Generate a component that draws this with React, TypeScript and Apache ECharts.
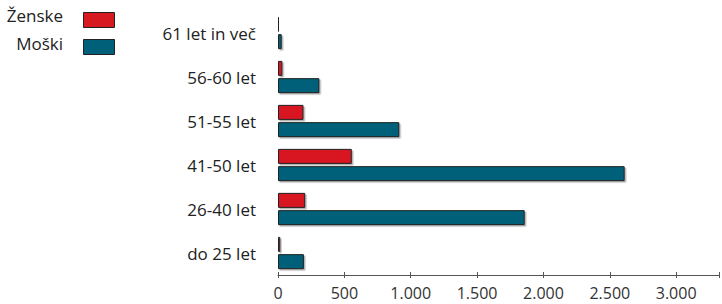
import React, { useEffect, useRef } from "react";
import * as echarts from "echarts";

const categories = ["do 25 let", "26-40 let", "41-50 let", "51-55 let", "56-60 let", "61 let in več"];
const zenske = [17, 205, 556, 192, 33, 8];
const moski = [195, 1859, 2612, 914, 312, 28];
const tickValues = [0, 500, 1000, 1500, 2000, 2500, 3000];
const legendNames = ["Ženske", "Moški"];

const RED = "#d71920";
const TEAL = "#006079";
const FONT = "'Open Sans', 'Noto Sans', sans-serif";

const fmt = (v: number) => {
  if (!tickValues.includes(v)) return "";
  return String(v).replace(/\B(?=(\d{3})+(?!\d))/g, ".");
};

export default function App() {
  const ref = useRef<HTMLDivElement>(null);
  useEffect(() => {
    if (!ref.current) return;
    const chart = echarts.init(ref.current, null, { renderer: "svg" });
    const barStyle = (color: string) => ({
      color,
      borderColor: "#222",
      borderWidth: 1,
      shadowColor: "rgba(0,0,0,0.3)",
      shadowBlur: 1,
      shadowOffsetX: 1.5,
      shadowOffsetY: 1.5,
    });
    chart.setOption({
      animation: false,
      textStyle: { fontFamily: FONT },
      grid: { left: 278, right: 0, top: 11, height: 264 },
      xAxis: [
        {
          type: "value",
          min: 0,
          max: 3323,
          interval: 500,
          position: "bottom",
          splitLine: { show: false },
          axisLine: { show: true, lineStyle: { color: "#555", width: 1 } },
          axisTick: { show: true, length: 3, lineStyle: { color: "#555" } },
          axisLabel: { formatter: fmt, color: "#333", fontSize: 16, lineHeight: 16, margin: 10, fontFamily: FONT },
        },
        {
          type: "value",
          min: 0,
          max: 3323,
          interval: 500,
          position: "bottom",
          splitLine: { show: false },
          axisLine: { show: false },
          axisTick: { show: true, inside: true, length: 3, lineStyle: { color: "#555" } },
          axisLabel: { show: false },
        },
      ],
      yAxis: {
        type: "category",
        data: categories,
        axisLine: { show: false },
        axisTick: { show: false },
        axisLabel: { color: "#222", fontSize: 17, margin: 22, fontFamily: FONT },
      },
      series: [
        {
          name: legendNames[0],
          type: "bar",
          data: zenske,
          barWidth: 15,
          barGap: "15%",
          itemStyle: barStyle(RED),
        },
        {
          name: legendNames[1],
          type: "bar",
          data: moski,
          barWidth: 15,
          barGap: "15%",
          itemStyle: barStyle(TEAL),
        },
      ],
      graphic: [
        {
          type: "text",
          right: 722 - 63,
          top: 7,
          style: { text: legendNames[0], fontSize: 17, fill: "#222", fontFamily: FONT, textAlign: "right" },
        },
        {
          type: "text",
          right: 722 - 63,
          top: 35,
          style: { text: legendNames[1], fontSize: 17, fill: "#222", fontFamily: FONT, textAlign: "right" },
        },
        {
          type: "rect",
          shape: { x: 83.5, y: 12.5, width: 31, height: 15 },
          style: { fill: RED, stroke: "#222", lineWidth: 1 },
        },
        {
          type: "rect",
          shape: { x: 83.5, y: 39.5, width: 31, height: 15 },
          style: { fill: TEAL, stroke: "#222", lineWidth: 1 },
        },
      ],
    });
    return () => chart.dispose();
  }, []);
  return (
    <div
      ref={ref}
      style={{ position: "fixed", left: 0, top: 0, width: 722, height: 304, background: "#fff" }}
    />
  );
}
